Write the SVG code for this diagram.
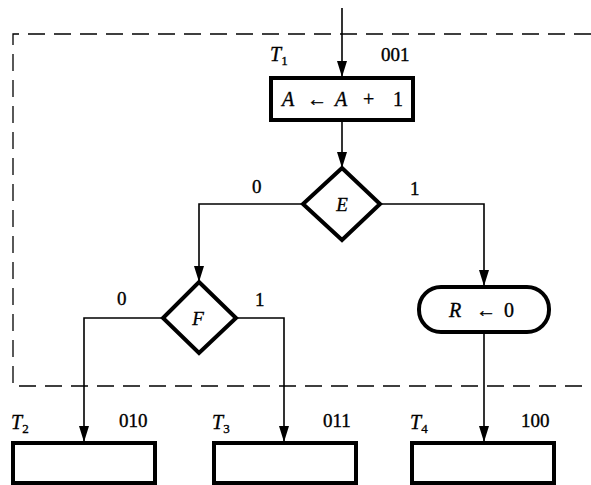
<svg xmlns="http://www.w3.org/2000/svg" width="591" height="485" viewBox="0 0 591 485" font-family="'Liberation Serif', 'DejaVu Serif', serif">
<defs>
<marker id="arrd" markerWidth="16" markerHeight="10" refX="15" refY="5" orient="auto" markerUnits="userSpaceOnUse" viewBox="0 0 16 10">
<path d="M0,0 L16,5 L0,10 Z" fill="#000"/>
</marker>
</defs>
<style>
.box{fill:#fff;stroke:#000;stroke-width:4}
.dia{fill:#fff;stroke:#000;stroke-width:4;stroke-linejoin:miter}
.ln{fill:none;stroke:#000;stroke-width:1.6}
.dash{fill:none;stroke:#000;stroke-width:1.3;stroke-dasharray:17,9}
text{font-family:'Liberation Serif','DejaVu Serif',serif;fill:#000;stroke:#000;stroke-width:0.35}
.lbl{font-size:19px}
.it{font-style:italic}
</style>
<rect width="591" height="485" fill="#fff"/>
<g id="boundary">
<path class="dash" d="M591,34 L13,34 L13,386 L591,386"/>
</g>
<g id="connectors">
<path class="ln" d="M342,8 L342,76" marker-end="url(#arrd)"/>
<path class="ln" d="M342,121 L342,167" marker-end="url(#arrd)"/>
<path class="ln" d="M303,204 L199,204 L199,281" marker-end="url(#arrd)"/>
<path class="ln" d="M380,204 L484,204 L484,285" marker-end="url(#arrd)"/>
<path class="ln" d="M163,318 L84,318 L84,441" marker-end="url(#arrd)"/>
<path class="ln" d="M236,318 L284,318 L284,441" marker-end="url(#arrd)"/>
<path class="ln" d="M484,333 L484,441" marker-end="url(#arrd)"/>
<text class="lbl" x="252" y="193">0</text>
<text class="lbl" x="410" y="195">1</text>
<text class="lbl" x="117" y="305">0</text>
<text class="lbl" x="255" y="306">1</text>
</g>
<g id="T1">
<rect class="box" x="271" y="78" width="142" height="42"/>
<text y="106" font-size="20"><tspan class="it" x="282">A</tspan><tspan x="307">←</tspan><tspan class="it" x="335">A</tspan><tspan x="363">+</tspan><tspan x="393">1</tspan></text>
<text x="270" y="61" font-size="20" class="it">T<tspan font-size="13" dy="4" font-style="normal">1</tspan></text>
<text class="lbl" x="381" y="61">001</text>
</g>
<g id="E">
<path class="dia" d="M342,168 L380,204 L342,240 L303,204 Z"/>
<text x="342" y="211" text-anchor="middle" font-size="19" class="it">E</text>
</g>
<g id="F">
<path class="dia" d="M199,282 L236,318 L199,353 L163,318 Z"/>
<text x="198" y="325" text-anchor="middle" font-size="19" class="it">F</text>
</g>
<g id="R">
<rect class="box" x="419" y="287" width="130" height="45" rx="22" ry="22"/>
<text y="317" font-size="20"><tspan class="it" x="449">R</tspan><tspan x="476">←</tspan><tspan x="504">0</tspan></text>
</g>
<g id="T2">
<rect class="box" x="13" y="443" width="142" height="40"/>
<text x="11" y="429" font-size="20" class="it">T<tspan font-size="13" dy="4" font-style="normal">2</tspan></text>
<text class="lbl" x="119" y="427">010</text>
</g>
<g id="T3">
<rect class="box" x="214" y="443" width="142" height="40"/>
<text x="212" y="429" font-size="20" class="it">T<tspan font-size="13" dy="4" font-style="normal">3</tspan></text>
<text class="lbl" x="323" y="427">011</text>
</g>
<g id="T4">
<rect class="box" x="412" y="443" width="142" height="40"/>
<text x="410" y="429" font-size="20" class="it">T<tspan font-size="13" dy="4" font-style="normal">4</tspan></text>
<text class="lbl" x="521" y="427">100</text>
</g>
</svg>
